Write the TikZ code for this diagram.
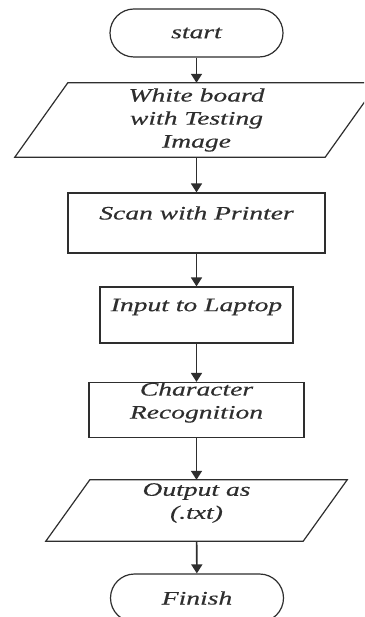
\documentclass[tikz,border=0pt]{standalone}
\usepackage{fontspec}
\usetikzlibrary{arrows.meta,shapes.misc}
\newfontfamily\flowfont[FakeStretch=1.45,FakeBold=0.4]{Liberation Serif}
\definecolor{ink}{HTML}{2E2E2E}
\tikzset{
  txt/.style={font=\flowfont\itshape\fontsize{19}{23}\selectfont, text=ink, align=center, inner sep=0pt},
  outline/.style={draw=ink, line width=1.2pt},
  terminal/.style={outline, rounded rectangle, minimum width=173pt, minimum height=48pt, inner sep=0pt},
  procbox/.style={outline, rectangle, inner sep=0pt},
  iobox/.style={rectangle, inner sep=0pt},
  arr/.style={draw=ink, line width=1.6pt, -{Triangle[length=9pt,width=11pt]}}
}
\begin{document}
\begin{tikzpicture}[x=1pt,y=-1pt]
  \useasboundingbox (0,0) rectangle (364,617);
  \clip (0,0) rectangle (364,617);
  \fill[white] (0,0) rectangle (364,617);

  % terminals
  \node[terminal, label={[txt]center:start}] (start) at (196.5,33) {};
  \node[terminal, label={[txt]center:Finish}] (finish) at (197,598) {};

  % input / output (parallelograms drawn round their bounding nodes)
  \node[iobox, minimum width=310pt, minimum height=74pt,
        label={[txt]center:White board\\with Testing\\Image}] (board) at (196.5,120) {};
  \node[iobox, minimum width=257pt, minimum height=61pt,
        label={[txt,yshift=7.5pt]center:Output as\\(.txt)}] (out) at (196.5,510.5) {};
  \draw[outline] ([xshift=26.5pt]board.north west) -- ([xshift=26.5pt]board.north east)
                 -- ([xshift=-26.5pt]board.south east) -- ([xshift=-26.5pt]board.south west) -- cycle;
  \draw[outline] ([xshift=22pt]out.north west) -- ([xshift=22pt]out.north east)
                 -- ([xshift=-22pt]out.south east) -- ([xshift=-22pt]out.south west) -- cycle;

  % process steps
  \node[procbox, minimum width=257pt, minimum height=60pt,
        label={[txt,yshift=10pt]center:Scan with Printer}] (scan) at (196.5,223) {};
  \node[procbox, minimum width=193pt, minimum height=56pt,
        label={[txt,yshift=8pt]center:Input to Laptop}] (laptop) at (196.5,315) {};
  \node[procbox, minimum width=215pt, minimum height=55pt,
        label={[txt,yshift=7.5pt]center:Character\\Recognition}] (ocr) at (196.5,410) {};

  % flow
  \draw[arr] (start) -- (board);
  \draw[arr] (board) -- (scan);
  \draw[arr] (scan) -- (laptop);
  \draw[arr] (laptop) -- (ocr);
  \draw[arr] (ocr) -- (out);
  \draw[arr] (out) -- (finish);
\end{tikzpicture}
\end{document}
